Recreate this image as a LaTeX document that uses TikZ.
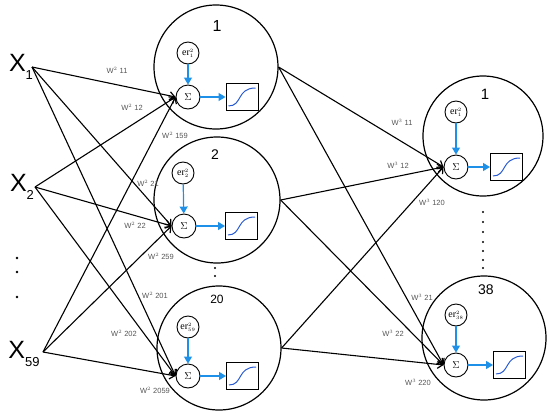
\documentclass[tikz,border=0pt]{standalone}
\usepackage{fontspec}
\setmainfont{Liberation Sans}
\newfontfamily\seriffont{Liberation Serif}
\usetikzlibrary{arrows.meta}
\definecolor{ablue}{RGB}{30,144,232}
\definecolor{sblue}{RGB}{40,90,210}
\definecolor{wgray}{RGB}{85,85,85}
\tikzset{
  bigcirc/.style={draw, circle, line width=1.2pt, minimum size=#1, inner sep=0pt},
  sumnode/.style={draw, circle, line width=0.9pt, minimum size=24pt, inner sep=0pt, font=\fontsize{10}{10}\selectfont},
  ernode/.style={draw, circle, line width=0.9pt, minimum size=22pt, inner sep=0pt, font=\seriffont\fontsize{10}{10}\selectfont},
  actbox/.style={draw, line width=1pt, minimum width=32pt, minimum height=27pt, inner sep=0pt},
  conn/.style={line width=1.1pt, -{Straight Barb[length=5pt,width=8pt,line width=1.2pt]}},
  bluearr/.style={ablue, line width=1.2pt, -{Triangle[length=7pt,width=8pt]}},
  wlab/.style={text=wgray, font=\fontsize{7.5}{7.5}\selectfont, inner sep=0pt},
  xlab/.style={font=\fontsize{25}{25}\selectfont, inner sep=0pt},
  dotmark/.style={fill=black, circle, inner sep=0pt, minimum size=2.6pt},
}
\newcommand{\sigmoid}[1]{%
  \draw[sblue, line width=1pt] ([xshift=3pt,yshift=5pt]#1.south west) .. controls ([xshift=17pt,yshift=5pt]#1.south west) and ([xshift=11pt,yshift=-5pt]#1.north west) .. ([xshift=-3pt,yshift=-5pt]#1.north east);}
\newcommand{\erlab}[1]{er\rlap{$^{\scriptscriptstyle 2}$}$_{\scriptscriptstyle #1}$}
\begin{document}
\begin{tikzpicture}[x=1pt,y=-1pt]
\useasboundingbox (0,0) rectangle (550,413);
% inputs
\node[xlab] (X1) at (21,67) {X\raisebox{-0.35em}{\fontsize{13}{13}\selectfont 1}};
\node[xlab] (X2) at (22,187) {X\raisebox{-0.35em}{\fontsize{13}{13}\selectfont 2}};
\node[xlab] (X59) at (24,354) {X\raisebox{-0.35em}{\fontsize{13}{13}\selectfont 59}};
\coordinate (x1o) at (32,67);
\coordinate (x2o) at (35,187);
\coordinate (x59o) at (43,352);
\node[dotmark] (id1) at (17,258) {};
\node[dotmark] (id2) at (17,272) {};
\node[dotmark] (id3) at (17,297) {};
% hidden layer
\node[bigcirc=124pt] (h1) at (216,67) {};
\node[bigcirc=126pt] (h2) at (217,200) {};
\node[bigcirc=124pt] (h20) at (219,348) {};
\node[font=\fontsize{16}{16}\selectfont] (L1) at (217,26) {1};
\node[font=\fontsize{14}{14}\selectfont] (L2) at (215,155) {2};
\node[font=\fontsize{12}{12}\selectfont] (L20) at (217,299) {20};
\node[dotmark, minimum size=2.4pt] (hd1) at (215,268) {};
\node[dotmark, minimum size=2.4pt] (hd2) at (215,276) {};
\node[sumnode] (s1) at (188,97) {$\Sigma$};
\node[sumnode] (s2) at (184,226) {$\Sigma$};
\node[sumnode] (s20) at (188,376) {$\Sigma$};
\node[ernode] (e1) at (188,53) {\erlab{1}};
\node[ernode] (e2) at (183,173) {\erlab{2}};
\node[ernode] (e20) at (188,327) {\erlab{59}};
\node[actbox] (b1) at (242,97) {};
\node[actbox] (b2) at (241.5,226) {};
\node[actbox] (b20) at (242.5,376) {};
% output layer
\node[bigcirc=120pt] (o1) at (483,136) {};
\node[bigcirc=124pt] (o38) at (484,338) {};
\node[font=\fontsize{15}{15}\selectfont] (Lo1) at (485,94) {1};
\node[font=\fontsize{14}{14}\selectfont] (Lo38) at (486,290) {38};
\foreach \yy [count=\i] in {212,222,232,242,251,260,268}
  \node[dotmark, minimum size=2.4pt] (od\i) at (483,\yy) {};
\node[sumnode] (so1) at (456,167) {$\Sigma$};
\node[sumnode] (so38) at (456,365) {$\Sigma$};
\node[ernode] (eo1) at (456,112) {\erlab{1}};
\node[ernode] (eo38) at (456,315) {\erlab{38}};
\node[actbox] (bo1) at (506.5,167) {};
\node[actbox] (bo38) at (509.5,365) {};
% internal blue arrows and sigmoids
\foreach \e/\s/\b in {e1/s1/b1, e2/s2/b2, e20/s20/b20, eo1/so1/bo1, eo38/so38/bo38}{
  \draw[bluearr] (\e) -- (\s);
  \draw[bluearr] (\s) -- (\b.west);
  \sigmoid{\b}
}
% input -> hidden
\foreach \x in {x1o,x2o,x59o}
  \foreach \s in {s1,s2,s20}
    \draw[conn] (\x) -- (\s.west);
% hidden -> output
\foreach \h in {h1,h2,h20}
  \foreach \s in {so1,so38}
    \draw[conn] (\h.east) -- (\s.west);
% weight labels
\node[wlab] (w11) at (117,70) {W$^{\scriptscriptstyle 2}$ 11};
\node[wlab] (w12) at (132,107) {W$^{\scriptscriptstyle 2}$ 12};
\node[wlab] (w159) at (175,135) {W$^{\scriptscriptstyle 2}$ 159};
\node[wlab] (w21) at (148,183) {W$^{\scriptscriptstyle 2}$ 21};
\node[wlab] (w22) at (135,225) {W$^{\scriptscriptstyle 2}$ 22};
\node[wlab] (w259) at (161,256) {W$^{\scriptscriptstyle 2}$ 259};
\node[wlab] (w201) at (155,295) {W$^{\scriptscriptstyle 2}$ 201};
\node[wlab] (w202) at (124,333) {W$^{\scriptscriptstyle 2}$ 202};
\node[wlab] (w2059) at (155,390) {W$^{\scriptscriptstyle 2}$ 2059};
\node[wlab] (v11) at (402,122) {W$^{\scriptscriptstyle 3}$ 11};
\node[wlab] (v12) at (398,165) {W$^{\scriptscriptstyle 3}$ 12};
\node[wlab] (v120) at (432,202) {W$^{\scriptscriptstyle 3}$ 120};
\node[wlab] (v21) at (422,297) {W$^{\scriptscriptstyle 3}$ 21};
\node[wlab] (v22) at (393,333) {W$^{\scriptscriptstyle 3}$ 22};
\node[wlab] (v220) at (418,382) {W$^{\scriptscriptstyle 3}$ 220};
\end{tikzpicture}
\end{document}
